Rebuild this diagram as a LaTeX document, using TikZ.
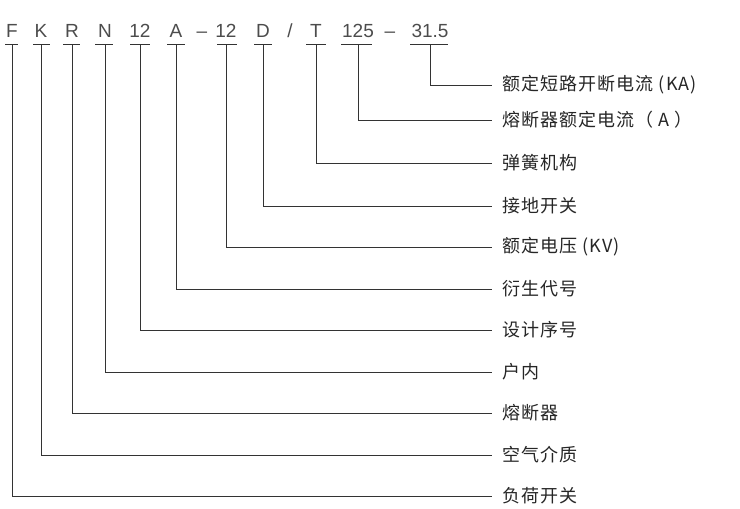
\documentclass[tikz,border=0pt]{standalone}
\usepackage{fontspec}
\setmainfont{Liberation Sans}
\newfontfamily\cjk[LetterSpace=6]{Noto Sans CJK SC}
\begin{document}
\begin{tikzpicture}[x=1pt,y=-1pt,
  code/.style={inner sep=0pt,anchor=base,text=black!70,font=\fontsize{19}{19}\selectfont},
  lbl/.style={inner sep=0pt,anchor=west,text=black!85,font=\cjk\fontsize{18}{18}\selectfont},
  ln/.style={draw=black!80,line width=0.7pt}]
\useasboundingbox (0,0) rectangle (740,509);
\foreach \n/\t/\x/\a/\b in {f/F/12/5/18,k/K/41/33/50,r/R/72/63/80,n/N/105/95/113,s/12/140/130/150,a/A/176/167/185,v/12/226/217/237,d/D/263/254/272,t/T/316/306/326,i/125/358/341/372,c/31.5/430/410/448}{
  \node[code] (\n) at (\x,37) {\t};
  \draw[ln] (\a,44) -- (\b,44);
  \coordinate (\n u) at (\x,44);
}
\node[code] at (202,37) {–};
\node[code] at (290,37) {/};
\node[code] at (390,37) {–};
\foreach \n/\y/\t in {c/85/额定短路开断电流 (KA),i/120/熔断器额定电流（ A ）,t/163/弹簧机构,d/206/接地开关,v/247/额定电压 (KV),a/289/衍生代号,s/330/设计序号,n/372/户内,r/413/熔断器,k/455/空气介质,f/496/负荷开关}{
  \node[lbl] (l\n) at (502,\y) {\t};
  \draw[ln] (\n u) |- (492,\y);
}
\end{tikzpicture}
\end{document}
